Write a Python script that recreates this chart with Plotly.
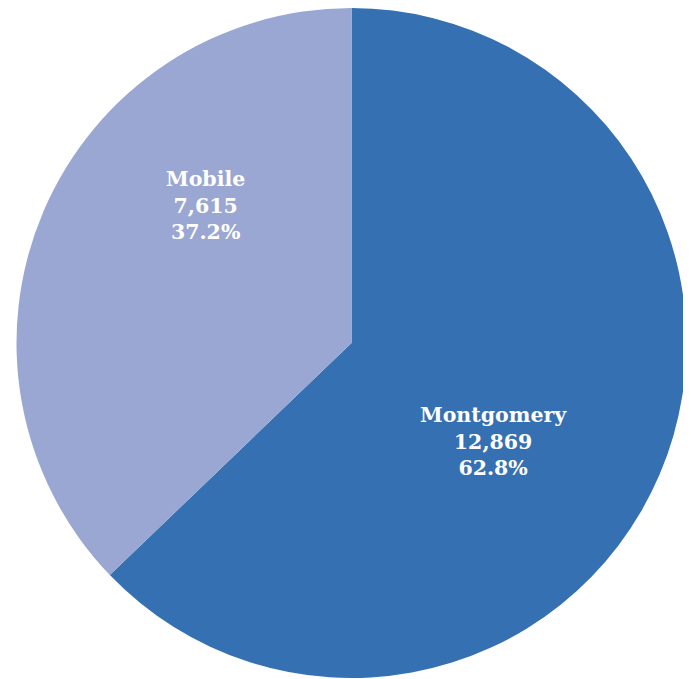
import plotly.graph_objects as go

labels = ["Montgomery", "Mobile"]
values = [12869, 7615]
colors = ["#3570B3", "#99A7D2"]

W, H = 691, 679
OFF = 8  # browser body margin
cx, cy, r = 351.5 - OFF, 343 - OFF, 335

# label anchor points (page pixels), layout only
label_pos = [(493 - OFF, 442 - OFF), (205 - OFF, 205 - OFF)]

total = sum(values)
texts = [f"<b>{l}<br>{v:,}<br>{v / total * 100:.1f}%</b>" for l, v in zip(labels, values)]

fig = go.Figure(go.Pie(
    labels=labels,
    values=values,
    textinfo="none",
    sort=False,
    direction="clockwise",
    rotation=0,
    marker=dict(colors=colors, line=dict(width=0)),
    hoverinfo="label+value+percent",
    domain=dict(x=[(cx - r) / W, (cx + r) / W], y=[1 - (cy + r) / H, 1 - (cy - r) / H]),
))

for t, (px, py) in zip(texts, label_pos):
    fig.add_annotation(
        x=px / W, y=1 - py / H, xref="paper", yref="paper",
        text=t, showarrow=False, align="center",
        xanchor="center", yanchor="middle",
        font=dict(family="DejaVu Serif", size=20.5, color="white"),
    )

fig.update_layout(
    width=W, height=H,
    margin=dict(l=0, r=0, t=0, b=0),
    showlegend=False,
    paper_bgcolor="white",
)
fig.write_html("out.html")
